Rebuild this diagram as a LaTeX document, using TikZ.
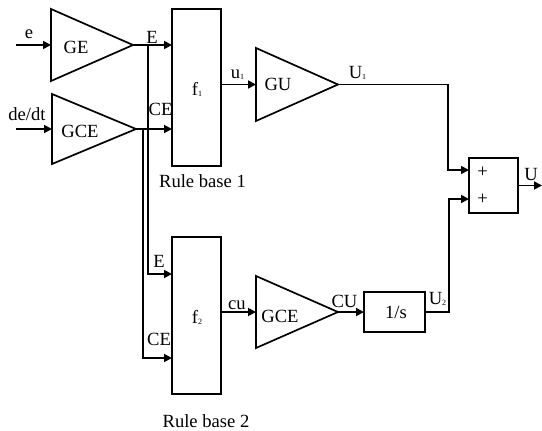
\documentclass[tikz,border=0pt]{standalone}
\usepackage{fontspec}
\setmainfont{Liberation Serif}
\usetikzlibrary{arrows.meta,shapes.geometric}
\newcommand\mysub[1]{\raisebox{-1.5pt}{\fontsize{8}{8}\selectfont #1}}
\begin{document}
\begin{tikzpicture}[x=1pt,y=-1pt,
  every node/.style={font=\fontsize{18.6}{21}\selectfont},
  amp/.style={draw, isosceles triangle, isosceles triangle stretches, inner sep=0pt, outer sep=0pt, line width=1.7pt, shape border rotate=0},
  blk/.style={draw, rectangle, inner sep=0pt, outer sep=0pt, line width=1.7pt},
  arr/.style={line width=1.7pt, -{Triangle[length=8pt,width=8pt]}},
  lbl/.style={anchor=base, inner sep=0pt}]
\useasboundingbox (0,0) rectangle (542,431);
% blocks (minimum height = length base-to-apex, minimum width = base)
\node[amp, minimum height=82pt, minimum width=72pt, anchor=west] (ge) at (51,45) {};
\node[amp, minimum height=84pt, minimum width=70pt, anchor=west] (gce) at (52,129) {};
\node[amp, minimum height=82pt, minimum width=73pt, anchor=west] (gu) at (256,84.5) {};
\node[amp, minimum height=82pt, minimum width=72pt, anchor=west] (gce2) at (256,312) {};
\node[blk, minimum width=49pt, minimum height=157pt] (f1) at (196.5,87.5) {};
\node[blk, minimum width=49pt, minimum height=157pt] (f2) at (196.5,315.5) {};
\node[blk, minimum width=61pt, minimum height=40pt] (int) at (394.5,312) {};
\node[blk, minimum width=49pt, minimum height=55pt] (sum) at (493.5,185.5) {};
% coordinates
\coordinate (ein) at (16,45);
\coordinate (dein) at (16,129);
\coordinate (etap) at (148,45);
\coordinate (cetap) at (143,129);
\coordinate (f2e) at (172,274);
\coordinate (f2ce) at (172,358);
\coordinate (s1) at (469,170);
\coordinate (s2) at (469,199);
\coordinate (uout) at (542,185.5);
% connectors
\draw[arr] (ein) -- (ge.west);
\draw[arr] (dein) -- (gce.west);
\draw[arr] (ge.apex) -- (f1.west |- ge.apex);
\draw[arr] (gce.apex) -- (f1.west |- gce.apex);
\draw[arr] (etap) |- (f2e);
\draw[arr] (cetap) |- (f2ce);
\draw[arr] (f1.east |- gu.west) -- (gu.west);
\draw[arr] (f2.east |- gce2.west) -- (gce2.west);
\draw[arr] (gce2.apex) -- (int.west |- gce2.apex);
\draw[arr] (gu.apex) -| ([xshift=-21pt]s1) -- (s1);
\draw[arr] (int.east) -| ([xshift=-20pt]s2) -- (s2);
\draw[arr] (sum.east) -- (uout);
% labels
\node[lbl] (le) at (29,38) {e};
\node[lbl] (lde) at (27,120) {de/dt};
\node[lbl] (lge) at (76,53) {GE};
\node[lbl] (lgce) at (80,137) {GCE};
\node[lbl] (lE1) at (152,43) {E};
\node[lbl] (lCE1) at (160.5,115) {CE};
\node[lbl] (lf1) at (197,95) {f\mysub{1}};
\node[lbl] (lu1) at (237.5,78) {u\mysub{1}};
\node[lbl] (lgu) at (278,90) {GU};
\node[lbl] (lU1) at (357.5,78) {U\mysub{1}};
\node[inner sep=0pt] (lp1) at (482.5,172) {+};
\node[inner sep=0pt] (lp2) at (482.5,199) {+};
\node[lbl] (lU) at (531,180) {U};
\node[lbl] (lrb1) at (202.5,187) {Rule base 1};
\node[lbl] (lE2) at (159,267) {E};
\node[lbl] (lCE2) at (159,345) {CE};
\node[lbl] (lf2) at (197,323) {f\mysub{2}};
\node[lbl] (lcu) at (237,309) {cu};
\node[lbl] (lgce2) at (280,322) {GCE};
\node[lbl] (lCU) at (344.5,307) {CU};
\node[lbl] (lint) at (396,318) {1/s};
\node[lbl] (lU2) at (437.5,304) {U\mysub{2}};
\node[lbl] (lrb2) at (206,427) {Rule base 2};
\end{tikzpicture}
\end{document}
